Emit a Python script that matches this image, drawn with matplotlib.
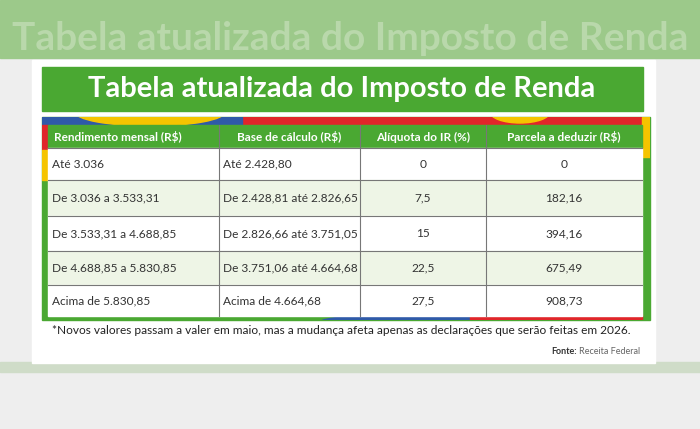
import matplotlib
matplotlib.use("Agg")
import matplotlib.pyplot as plt
from matplotlib.patches import Rectangle, Ellipse

title = "Tabela atualizada do Imposto de Renda"
headers = ["Rendimento mensal (R$)", "Base de cálculo (R$)", "Alíquota do IR (%)", "Parcela a deduzir (R$)"]
rendimento = ["Até 3.036", "De 3.036 a 3.533,31", "De 3.533,31 a 4.688,85", "De 4.688,85 a 5.830,85", "Acima de 5.830,85"]
base = ["Até 2.428,80", "De 2.428,81 até 2.826,65", "De 2.826,66 até 3.751,05", "De 3.751,06 até 4.664,68", "Acima de 4.664,68"]
aliquota = ["0", "7,5", "15", "22,5", "27,5"]
parcela = ["0", "182,16", "394,16", "675,49", "908,73"]
footnote = "*Novos valores passam a valer em maio, mas a mudança afeta apenas as declarações que serão feitas em 2026."

GREEN = "#4aa832"
LIGHT = "#eef5e6"
FONT = "Lato"

fig = plt.figure(figsize=(7, 4.29), dpi=100)
ax = fig.add_axes([0, 0, 1, 1])
ax.set_xlim(0, 700); ax.set_ylim(429, 0); ax.axis("off")

# blurred background
ax.add_patch(Rectangle((0, 0), 700, 429, color="#eeeeee"))
ax.add_patch(Rectangle((0, 0), 700, 58, color="#9cc98a"))
ax.add_patch(Rectangle((0, 362), 700, 10, color="#cfdcc8"))
ax.text(350, 38, title, ha="center", va="center", fontsize=28, color="#b9d8ab",
        fontweight="bold", family=FONT)

# card
ax.add_patch(Rectangle((32, 60), 623, 303, color="white"))
ax.add_patch(Rectangle((42, 67), 601, 44, color=GREEN))
ax.text(342, 89, title, ha="center", va="center", fontsize=21, color="white",
        fontweight="bold", family=FONT)

# coloured frame
frame = Rectangle((42, 117), 608, 203, color=GREEN)
ax.add_patch(frame)
for p in [Rectangle((42, 117), 608, 8, color="#e0262a"),
          Rectangle((42, 117), 200, 8, color="#2f5aa8"),
          Ellipse((150, 112), 150, 28, color="#f5c400"),
          Ellipse((520, 112), 60, 22, color="#f5c400"),
          Rectangle((42, 125), 6, 25, color="#e0262a"),
          Rectangle((42, 150), 6, 30, color="#f5c400"),
          Rectangle((642, 117), 8, 40, color="#f5c400"),
          Ellipse((420, 322), 200, 16, color="#2f5aa8"),
          Rectangle((470, 314), 172, 6, color="#e0262a")]:
    ax.add_patch(p)
    p.set_clip_path(frame)

xs = [48, 219, 360, 486, 642]
ys = [125, 148, 180, 216, 251, 285, 316]
ax.add_patch(Rectangle((48, 125), 594, 23, color=GREEN))
for i in range(4):
    ha = "left" if i == 0 else "center"
    x = xs[i] + 6 if i == 0 else (xs[i] + xs[i + 1]) / 2
    ax.text(x, 137, headers[i], ha=ha, va="center", fontsize=8.5, color="white",
            fontweight="bold", family=FONT)
cols = [rendimento, base, aliquota, parcela]
for r in range(5):
    y0, y1 = ys[r + 1], ys[r + 2]
    ax.add_patch(Rectangle((48, y0), 594, y1 - y0, color="white" if r % 2 == 0 else LIGHT))
    yc = (y0 + y1) / 2
    for c in range(4):
        if c < 2:
            ax.text(xs[c] + 4, yc, cols[c][r], ha="left", va="center", fontsize=8.6, color="#333", family=FONT)
        else:
            ax.text((xs[c] + xs[c + 1]) / 2, yc, cols[c][r], ha="center", va="center", fontsize=8.6, color="#333", family=FONT)
    ax.plot([48, 642], [y0, y0], color="#777", lw=0.8)
for x in xs[1:4]:
    ax.plot([x, x], [125, 316], color="#777", lw=0.8)

ax.text(52, 331, footnote, ha="left", va="center", fontsize=8.6, color="#222", family=FONT)
ax.text(551, 351, "Fonte:", ha="left", va="center", fontsize=6.5, color="#333", fontweight="bold", family=FONT)
ax.text(579, 351, "Receita Federal", ha="left", va="center", fontsize=6.5, color="#666", family=FONT)

fig.savefig("out.png", dpi=100)
